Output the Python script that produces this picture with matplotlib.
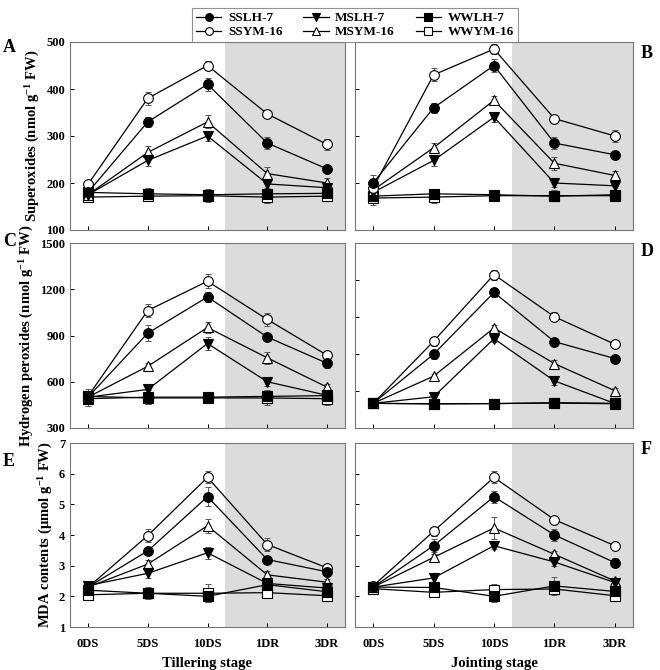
import matplotlib
matplotlib.use("Agg")
import matplotlib.pyplot as plt
import numpy as np

plt.rcParams['font.family'] = ['Liberation Serif', 'DejaVu Serif']
plt.rcParams['font.weight'] = 'bold'
plt.rcParams['mathtext.fontset'] = 'custom'
plt.rcParams['mathtext.rm'] = 'Liberation Serif:bold'
plt.rcParams['mathtext.it'] = 'Liberation Serif:bold'
plt.rcParams['mathtext.bf'] = 'Liberation Serif:bold'

stages = ['0DS', '5DS', '10DS', '1DR', '3DR']
series = ['SSLH-7', 'SSYM-16', 'MSLH-7', 'MSYM-16', 'WWLH-7', 'WWYM-16']

# superoxides, tillering (A)
a_val = {'SSLH-7': [180, 330, 410, 285, 230], 'SSYM-16': [197, 380, 450, 347, 282],
         'MSLH-7': [175, 248, 300, 198, 190], 'MSYM-16': [175, 265, 330, 220, 200],
         'WWLH-7': [180, 177, 175, 177, 178], 'WWYM-16': [170, 172, 173, 170, 172]}
a_err = {'SSLH-7': [8, 10, 14, 12, 8], 'SSYM-16': [6, 14, 10, 8, 12],
         'MSLH-7': [6, 12, 10, 8, 6], 'MSYM-16': [6, 14, 14, 14, 10],
         'WWLH-7': [8, 12, 10, 10, 8], 'WWYM-16': [8, 10, 14, 12, 8]}
# superoxides, jointing (B)
b_val = {'SSLH-7': [200, 360, 450, 285, 260], 'SSYM-16': [190, 430, 485, 337, 300],
         'MSLH-7': [180, 248, 340, 200, 194], 'MSYM-16': [185, 275, 376, 242, 216],
         'WWLH-7': [172, 177, 175, 172, 175], 'WWYM-16': [168, 170, 173, 173, 173]}
b_err = {'SSLH-7': [16, 10, 14, 12, 8], 'SSYM-16': [10, 14, 10, 8, 12],
         'MSLH-7': [8, 12, 10, 8, 8], 'MSYM-16': [8, 10, 10, 14, 10],
         'WWLH-7': [8, 10, 8, 10, 8], 'WWYM-16': [14, 12, 8, 12, 10]}
# hydrogen peroxides, tillering (C)
c_val = {'SSLH-7': [500, 915, 1150, 890, 720], 'SSYM-16': [505, 1062, 1252, 1004, 772],
         'MSLH-7': [500, 550, 848, 600, 512], 'MSYM-16': [500, 700, 952, 755, 565],
         'WWLH-7': [490, 500, 500, 505, 510], 'WWYM-16': [505, 495, 495, 495, 490]}
c_err = {'SSLH-7': [40, 50, 35, 25, 30], 'SSYM-16': [30, 40, 45, 45, 25],
         'MSLH-7': [40, 35, 45, 30, 25], 'MSYM-16': [30, 20, 35, 40, 20],
         'WWLH-7': [50, 45, 35, 40, 30], 'WWYM-16': [45, 40, 35, 45, 40]}
# hydrogen peroxides, jointing (D)
d_val = {'SSLH-7': [200, 598, 1099, 700, 563], 'SSYM-16': [199, 703, 1244, 902, 679],
         'MSLH-7': [200, 253, 724, 382, 199], 'MSYM-16': [200, 420, 811, 522, 302],
         'WWLH-7': [200, 195, 198, 205, 200], 'WWYM-16': [200, 197, 198, 202, 197]}
d_err = {'SSLH-7': [25, 35, 40, 25, 30], 'SSYM-16': [20, 35, 40, 35, 20],
         'MSLH-7': [25, 25, 30, 30, 20], 'MSYM-16': [20, 15, 25, 30, 25],
         'WWLH-7': [25, 30, 25, 30, 25], 'WWYM-16': [20, 30, 25, 25, 25]}
# MDA, tillering (E)
e_val = {'SSLH-7': [2.30, 3.48, 5.25, 3.20, 2.80], 'SSYM-16': [2.29, 3.98, 5.88, 3.69, 2.93],
         'MSLH-7': [2.35, 2.75, 3.42, 2.42, 2.27], 'MSYM-16': [2.30, 3.05, 4.30, 2.70, 2.46],
         'WWLH-7': [2.20, 2.10, 2.00, 2.38, 2.15], 'WWYM-16': [2.05, 2.10, 2.10, 2.12, 2.02]}
e_err = {'SSLH-7': [0.10, 0.12, 0.30, 0.12, 0.10], 'SSYM-16': [0.10, 0.20, 0.20, 0.20, 0.10],
         'MSLH-7': [0.10, 0.15, 0.20, 0.12, 0.10], 'MSYM-16': [0.10, 0.15, 0.22, 0.12, 0.10],
         'WWLH-7': [0.10, 0.15, 0.18, 0.12, 0.10], 'WWYM-16': [0.10, 0.20, 0.30, 0.10, 0.08]}
# MDA, jointing (F)
f_val = {'SSLH-7': [2.30, 3.65, 5.25, 4.00, 3.10], 'SSYM-16': [2.34, 4.12, 5.88, 4.50, 3.65],
         'MSLH-7': [2.30, 2.60, 3.65, 3.12, 2.45], 'MSYM-16': [2.30, 3.27, 4.23, 3.37, 2.50],
         'WWLH-7': [2.30, 2.29, 2.00, 2.34, 2.16], 'WWYM-16': [2.25, 2.13, 2.22, 2.24, 2.02]}
f_err = {'SSLH-7': [0.10, 0.22, 0.20, 0.20, 0.15], 'SSYM-16': [0.10, 0.15, 0.20, 0.10, 0.10],
         'MSLH-7': [0.10, 0.15, 0.12, 0.12, 0.10], 'MSYM-16': [0.10, 0.10, 0.35, 0.12, 0.10],
         'WWLH-7': [0.10, 0.10, 0.18, 0.30, 0.12], 'WWYM-16': [0.10, 0.12, 0.18, 0.15, 0.08]}

styles = {'SSLH-7': ('o', 'black'), 'SSYM-16': ('o', 'white'),
          'MSLH-7': ('v', 'black'), 'MSYM-16': ('^', 'white'),
          'WWLH-7': ('s', 'black'), 'WWYM-16': ('s', 'white')}

fig = plt.figure(figsize=(6.6, 6.7), dpi=100)

lx, rx = 70/660, 355/660
lw, rw = 275/660, 278/660
rows = [(1-230/670, 188/670), (1-428/670, 185/670), (1-627/670, 184/670)]

panels = [
    (a_val, a_err, 0, 0, (100, 500), [100, 200, 300, 400, 500]),
    (b_val, b_err, 0, 1, (100, 500), [200, 300, 400]),
    (c_val, c_err, 1, 0, (300, 1500), [300, 600, 900, 1200, 1500]),
    (d_val, d_err, 1, 1, (0, 1500), [300, 600, 900, 1200]),
    (e_val, e_err, 2, 0, (1, 7), [1, 2, 3, 4, 5, 6, 7]),
    (f_val, f_err, 2, 1, (1, 7), [2, 3, 4, 5, 6]),
]
ylabels = ['Superoxides (nmol g$^{-1}$ FW)',
           'Hydrogen peroxides (nmol g$^{-1}$ FW)',
           'MDA contents (\u03bcmol g$^{-1}$ FW)']
xlabels = ['Tillering stage', 'Jointing stage']
# panel letters, pixel positions (x, y)
letters = {'A': (3, 47), 'B': (641, 53), 'C': (3, 241), 'D': (641, 252),
           'E': (3, 462), 'F': (641, 450)}

x = np.arange(len(stages))
handles = {}
for vals, errs, r, c, ylim, yt in panels:
    bottom, h = rows[r]
    ax = fig.add_axes([lx if c == 0 else rx, bottom, lw if c == 0 else rw, h])
    ax.axvspan(2.3, 4.4, color='#dcdcdc', lw=0, zorder=0)
    for s in series[::-1]:
        m, fc = styles[s]
        ax.errorbar(x, vals[s], yerr=errs[s], fmt='none', ecolor='#555555',
                    elinewidth=0.7, capsize=2, capthick=0.7, zorder=2)
        ln, = ax.plot(x, vals[s], color='black', lw=0.9, marker=m,
                      markerfacecolor=fc, markeredgecolor='black',
                      markeredgewidth=0.8, markersize=7, zorder=3)
        handles[s] = ln
    ax.set_xlim(-0.3, 4.3)
    ax.set_ylim(*ylim)
    ax.set_yticks(yt)
    ax.set_xticks(x)
    ax.tick_params(direction='in', length=3, width=0.7, colors='black', labelsize=9)
    for sp in ax.spines.values():
        sp.set_color('#777777')
        sp.set_linewidth(0.8)
    if c == 0:
        ax.set_ylabel(ylabels[r], fontsize=10.5, fontweight='bold', labelpad=3)
    else:
        ax.set_yticklabels([])
    if r == 2:
        ax.set_xticklabels(stages, fontsize=9, fontweight='bold')
        ax.tick_params(axis='x', pad=8)
        ax.set_xlabel(xlabels[c], fontsize=10.5, fontweight='bold', labelpad=5)
    else:
        ax.set_xticklabels([])
    for lab in ax.get_yticklabels():
        lab.set_fontweight('bold')

for k, (px, py) in letters.items():
    fig.text(px/660, 1 - py/670, k, fontsize=13, fontweight='bold', va='center')

order = ['SSLH-7', 'SSYM-16', 'MSLH-7', 'MSYM-16', 'WWLH-7', 'WWYM-16']
leg = fig.legend([handles[s] for s in order], order, ncol=3, loc='upper center',
                 bbox_to_anchor=(355/660, 0.998), frameon=True, fancybox=False,
                 edgecolor='#777777', handlelength=1.9, handletextpad=0.5,
                 columnspacing=1.6, labelspacing=0.15, borderpad=0.3,
                 markerscale=0.8, prop={'weight': 'bold', 'size': 9.5})
leg.get_frame().set_linewidth(0.8)

fig.savefig('out.png', dpi=100)
